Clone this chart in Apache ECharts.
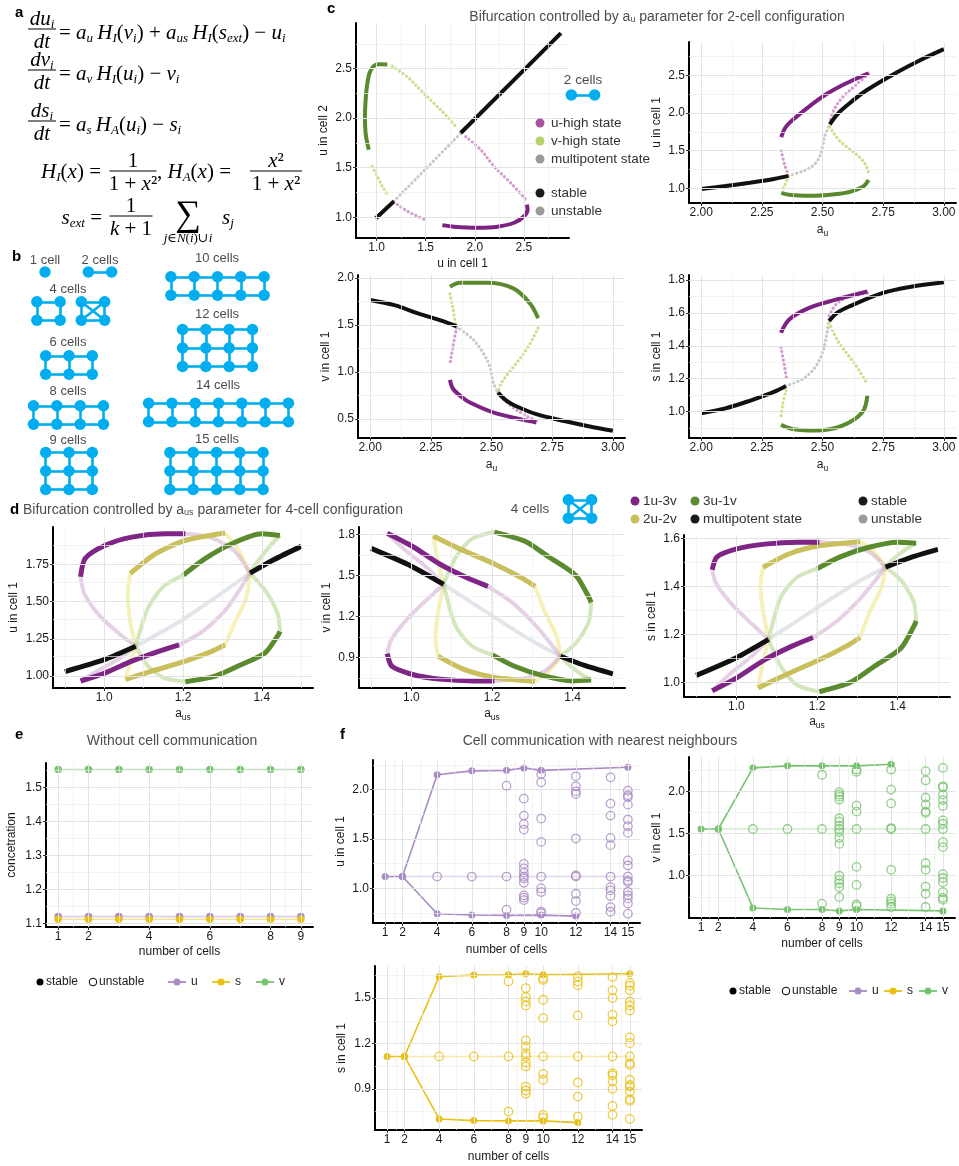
<!DOCTYPE html>
<html>
<head>
<meta charset="utf-8">
<title>Bifurcation figure</title>
<script src="https://cdn.jsdelivr.net/npm/echarts@6/dist/echarts.min.js"></script>
<style>
  html, body { margin: 0; padding: 0; background: #fff; }
  #main { width: 959px; height: 1166px; }
</style>
</head>
<body>
<div id="main"></div>
<script>
// ================= data =================

// --- c: 2-cell bifurcation, u cell 1 vs u cell 2
var c1_black1 = [[0.99,0.987],[1.177,1.161]];
var c1_grey   = [[1.177,1.161],[1.857,1.847]];
var c1_black2 = [[1.857,1.85],[2.878,2.857]];
var c1_dgreen = [[1.109,2.540],[1.024,2.543],[0.972,2.526],[0.932,2.466],[0.905,2.349],[0.888,2.182],[0.881,2.014],[0.888,1.847],[0.905,1.747],[0.921,1.680]];
var c1_lgreen1 = [[1.160,2.523],[1.313,2.416],[1.449,2.282],[1.585,2.149],[1.721,2.014],[1.806,1.914]];
var c1_lgreen2 = [[0.956,1.512],[1.007,1.412],[1.058,1.311],[1.126,1.211]];
var c1_pink1 = [[1.908,1.813],[2.061,1.68],[2.197,1.512],[2.367,1.345],[2.52,1.178]];
var c1_pink2 = [[1.211,1.128],[1.313,1.06],[1.415,1.01],[1.51,0.967]];
var c1_purple = [[1.670,0.920],[1.789,0.904],[2.028,0.894],[2.232,0.904],[2.401,0.944],[2.503,1.01],[2.538,1.077],[2.531,1.127]];

// --- c: u in cell 1 vs a_u
var c2_black1 = [[2.0,0.99],[2.1,1.03],[2.2,1.075],[2.3,1.125],[2.36,1.165]];
var c2_grey   = [[2.36,1.165],[2.42,1.23],[2.46,1.3],[2.485,1.4],[2.5,1.55],[2.51,1.7],[2.53,1.85]];
var c2_black2 = [[2.53,1.85],[2.56,1.98],[2.6,2.1],[2.68,2.3],[2.8,2.53],[2.9,2.7],[3.0,2.85]];
var c2_purple = [[2.33,1.68],[2.35,1.82],[2.4,1.97],[2.45,2.1],[2.52,2.26],[2.6,2.4],[2.69,2.53]];
var c2_pink1  = [[2.69,2.52],[2.64,2.38],[2.58,2.2],[2.545,2.03],[2.53,1.87]];
var c2_pink2  = [[2.33,1.5],[2.345,1.3],[2.36,1.18]];
var c2_lgreen1 = [[2.53,1.82],[2.56,1.67],[2.6,1.55],[2.65,1.42],[2.68,1.3],[2.69,1.18]];
var c2_lgreen2 = [[2.36,1.16],[2.345,1.04],[2.33,0.96]];
var c2_dgreen = [[2.33,0.94],[2.37,0.91],[2.45,0.9],[2.55,0.92],[2.62,0.96],[2.67,1.03],[2.69,1.11]];

// --- c: v in cell 1 vs a_u
var c3_black1 = [[2.0,1.765],[2.1,1.71],[2.2,1.62],[2.3,1.54],[2.356,1.484]];
var c3_grey   = [[2.356,1.48],[2.425,1.344],[2.466,1.2],[2.493,1.06],[2.507,0.89],[2.527,0.782]];
var c3_black2 = [[2.527,0.782],[2.56,0.7],[2.6,0.64],[2.685,0.553],[2.8,0.48],[2.9,0.425],[3.0,0.377]];
var c3_dgreen = [[2.329,1.905],[2.37,1.947],[2.48,1.947],[2.59,1.888],[2.658,1.73],[2.692,1.572]];
var c3_lgreen1 = [[2.692,1.467],[2.644,1.238],[2.582,1.027],[2.541,0.887],[2.527,0.79]];
var c3_lgreen2 = [[2.329,1.83],[2.342,1.66],[2.353,1.484]];
var c3_pink1  = [[2.356,1.47],[2.342,1.28],[2.329,1.09]];
var c3_pink2  = [[2.527,0.78],[2.545,0.72],[2.589,0.624],[2.64,0.54],[2.685,0.483]];
var c3_purple = [[2.329,0.918],[2.342,0.82],[2.38,0.73],[2.411,0.676],[2.507,0.571],[2.617,0.5],[2.685,0.465]];

// --- c: s in cell 1 vs a_u
var c4_black1 = [[2.0,0.99],[2.1,1.02],[2.2,1.066],[2.3,1.12],[2.349,1.156]];
var c4_grey   = [[2.349,1.156],[2.42,1.2],[2.47,1.27],[2.5,1.36],[2.515,1.45],[2.527,1.55]];
var c4_black2 = [[2.527,1.55],[2.56,1.6],[2.61,1.639],[2.746,1.72],[2.87,1.76],[3.0,1.786]];
var c4_purple = [[2.329,1.479],[2.363,1.56],[2.445,1.63],[2.555,1.68],[2.685,1.73]];
var c4_pink1  = [[2.685,1.72],[2.61,1.70],[2.555,1.65],[2.527,1.58]];
var c4_pink2  = [[2.329,1.39],[2.342,1.287],[2.352,1.197]];
var c4_lgreen1 = [[2.527,1.54],[2.568,1.418],[2.63,1.297],[2.685,1.167]];
var c4_lgreen2 = [[2.35,1.13],[2.335,1.036],[2.329,0.96]];
var c4_dgreen = [[2.329,0.92],[2.377,0.895],[2.473,0.885],[2.582,0.915],[2.664,0.996],[2.685,1.1]];

// --- d: 4-cell bifurcation vs a_us, u in cell 1  (p = 1u-3v, y = 2u-2v, g = 3u-1v, m = multipotent)
var dU_p_hi  = [[0.94,1.666],[0.952,1.79],[1.003,1.877],[1.07,1.932],[1.155,1.954],[1.206,1.954]];
var dU_p_lo  = [[0.94,0.967],[1.003,1.022],[1.07,1.10],[1.138,1.166],[1.19,1.21]];
var dU_p_un1 = [[0.94,1.666],[0.95,1.55],[0.99,1.4],[1.04,1.28],[1.08,1.2]];
var dU_p_un2 = [[1.206,1.954],[1.27,1.93],[1.33,1.84],[1.37,1.69]];
var dU_p_un3 = [[1.19,1.21],[1.25,1.3],[1.31,1.45],[1.37,1.69]];
var dU_p_un4 = [[0.94,0.967],[0.98,1.03],[1.04,1.12],[1.08,1.2]];
var dU_y_hi  = [[1.066,1.688],[1.13,1.82],[1.206,1.91],[1.307,1.96]];
var dU_y_lo  = [[1.054,0.978],[1.121,1.033],[1.206,1.10],[1.273,1.166],[1.307,1.21]];
var dU_y_un1 = [[1.066,1.688],[1.06,1.55],[1.065,1.38],[1.08,1.2]];
var dU_y_un2 = [[1.054,0.978],[1.065,1.08],[1.08,1.2]];
var dU_y_un3 = [[1.307,1.96],[1.34,1.85],[1.37,1.69]];
var dU_y_un4 = [[1.307,1.21],[1.33,1.35],[1.36,1.52],[1.37,1.69]];
var dU_g_hi  = [[1.201,1.677],[1.256,1.788],[1.324,1.888],[1.40,1.954],[1.446,1.943]];
var dU_g_lo  = [[1.206,0.962],[1.282,1.0],[1.34,1.067],[1.408,1.155],[1.442,1.277],[1.446,1.30]];
var dU_g_un1 = [[1.446,1.943],[1.42,1.87],[1.39,1.77],[1.37,1.69]];
var dU_g_un2 = [[1.446,1.30],[1.44,1.42],[1.41,1.57],[1.37,1.69]];
var dU_g_un3 = [[1.206,0.962],[1.15,0.99],[1.11,1.07],[1.08,1.2]];
var dU_g_un4 = [[1.201,1.677],[1.15,1.6],[1.11,1.45],[1.08,1.2]];
var dU_m_lo  = [[0.9,1.03],[1.0,1.11],[1.08,1.2]];
var dU_m_hi  = [[1.37,1.69],[1.43,1.78],[1.5,1.87]];
var dU_m_un  = [[1.08,1.2],[1.2,1.38],[1.3,1.56],[1.37,1.69]];
var dU_m_un2 = [[1.2,1.21],[1.2,1.67]];

// --- d: v in cell 1
var dV_p_hi  = [[0.94,0.927],[0.952,0.833],[1.003,0.774],[1.07,0.740],[1.155,0.727],[1.206,0.727]];
var dV_p_lo  = [[0.94,1.809],[1.003,1.712],[1.07,1.584],[1.138,1.483],[1.19,1.42]];
var dV_p_un1 = [[0.94,0.927],[0.95,1.029],[0.99,1.182],[1.04,1.327],[1.08,1.434]];
var dV_p_un2 = [[1.206,0.727],[1.27,0.741],[1.33,0.798],[1.37,0.908]];
var dV_p_un3 = [[1.19,1.42],[1.25,1.301],[1.31,1.128],[1.37,0.908]];
var dV_p_un4 = [[0.94,1.809],[0.98,1.698],[1.04,1.553],[1.08,1.434]];
var dV_y_hi  = [[1.066,0.909],[1.13,0.812],[1.206,0.753],[1.307,0.723]];
var dV_y_lo  = [[1.054,1.789],[1.121,1.693],[1.206,1.584],[1.273,1.483],[1.307,1.42]];
var dV_y_un1 = [[1.066,0.909],[1.06,1.029],[1.065,1.205],[1.08,1.434]];
var dV_y_un2 = [[1.054,1.789],[1.065,1.616],[1.08,1.434]];
var dV_y_un3 = [[1.307,0.723],[1.34,0.791],[1.37,0.908]];
var dV_y_un4 = [[1.307,1.42],[1.33,1.24],[1.36,1.057],[1.37,0.908]];
var dV_g_hi  = [[1.201,0.918],[1.256,0.834],[1.324,0.767],[1.40,0.727],[1.446,0.733]];
var dV_g_lo  = [[1.206,1.818],[1.282,1.75],[1.34,1.637],[1.408,1.50],[1.442,1.33],[1.446,1.301]];
var dV_g_un1 = [[1.446,0.733],[1.42,0.778],[1.39,0.847],[1.37,0.908]];
var dV_g_un2 = [[1.446,1.301],[1.44,1.16],[1.41,1.01],[1.37,0.908]];
var dV_g_un3 = [[1.206,1.818],[1.15,1.768],[1.11,1.632],[1.08,1.434]];
var dV_g_un4 = [[1.201,0.918],[1.15,0.983],[1.11,1.128],[1.08,1.434]];
var dV_m_lo  = [[0.9,1.698],[1.0,1.568],[1.08,1.434]];
var dV_m_hi  = [[1.37,0.908],[1.43,0.84],[1.5,0.778]];
var dV_m_un  = [[1.08,1.434],[1.2,1.205],[1.3,1.02],[1.37,0.908]];
var dV_m_un2 = [[1.2,1.42],[1.2,0.92]];

// --- d: s in cell 1
var dS_p_hi  = [[0.94,1.47],[0.952,1.524],[1.003,1.558],[1.07,1.577],[1.155,1.585],[1.206,1.585]];
var dS_p_lo  = [[0.94,0.966],[1.003,1.022],[1.07,1.095],[1.138,1.152],[1.19,1.188]];
var dS_p_un1 = [[0.94,1.47],[0.95,1.412],[0.99,1.324],[1.04,1.242],[1.08,1.18]];
var dS_p_un2 = [[1.206,1.585],[1.27,1.577],[1.33,1.544],[1.37,1.481]];
var dS_p_un3 = [[1.19,1.188],[1.25,1.257],[1.31,1.355],[1.37,1.481]];
var dS_p_un4 = [[0.94,0.966],[0.98,1.03],[1.04,1.113],[1.08,1.18]];
var dS_y_hi  = [[1.066,1.48],[1.13,1.536],[1.206,1.570],[1.307,1.587]];
var dS_y_lo  = [[1.054,0.978],[1.121,1.032],[1.206,1.095],[1.273,1.152],[1.307,1.188]];
var dS_y_un1 = [[1.066,1.48],[1.06,1.412],[1.065,1.311],[1.08,1.18]];
var dS_y_un2 = [[1.054,0.978],[1.065,1.077],[1.08,1.18]];
var dS_y_un3 = [[1.307,1.587],[1.34,1.548],[1.37,1.481]];
var dS_y_un4 = [[1.307,1.188],[1.33,1.291],[1.36,1.396],[1.37,1.481]];
var dS_g_hi  = [[1.201,1.475],[1.256,1.523],[1.324,1.562],[1.40,1.585],[1.446,1.581]];
var dS_g_lo  = [[1.206,0.962],[1.282,1.0],[1.34,1.065],[1.408,1.143],[1.442,1.24],[1.446,1.257]];
var dS_g_un1 = [[1.446,1.581],[1.42,1.555],[1.39,1.516],[1.37,1.481]];
var dS_g_un2 = [[1.446,1.257],[1.44,1.337],[1.41,1.423],[1.37,1.481]];
var dS_g_un3 = [[1.206,0.962],[1.15,0.99],[1.11,1.068],[1.08,1.18]];
var dS_g_un4 = [[1.201,1.475],[1.15,1.438],[1.11,1.355],[1.08,1.18]];
var dS_m_lo  = [[0.9,1.03],[1.0,1.104],[1.08,1.18]];
var dS_m_hi  = [[1.37,1.481],[1.43,1.52],[1.5,1.555]];
var dS_m_un  = [[1.08,1.18],[1.2,1.311],[1.3,1.418],[1.37,1.481]];
var dS_m_un2 = [[1.2,1.188],[1.2,1.475]];

// --- e: without communication
var eCells = [1, 2, 3, 4, 5, 6, 7, 8, 9];
var eU = [1.121, 1.121, 1.121, 1.121, 1.121, 1.121, 1.121, 1.121, 1.121];
var eS = [1.113, 1.113, 1.113, 1.113, 1.113, 1.113, 1.113, 1.113, 1.113];
var eV = [1.553, 1.553, 1.553, 1.553, 1.553, 1.553, 1.553, 1.553, 1.553];

// --- f: nearest-neighbour communication, u
var fU_up    = [[2,1.12],[4,2.15],[6,2.19],[8,2.195],[9,2.22],[10,2.195],[15,2.226]];
var fU_low   = [[2,1.12],[4,0.744],[6,0.731],[8,0.727],[10,0.73],[12,0.72]];
var fU_mid   = [[1,1.12],[2,1.12]];
var fU_midUn = [[2,1.12],[15,1.12]];
var fU_un = [[4,1.12],[6,1.12],[8,2.04],[8,1.12],[8,0.785],
  [9,1.909],[9,1.737],[9,1.653],[9,1.596],[9,1.249],[9,1.202],[9,1.158],[9,1.12],[9,1.101],[9,1.057],[9,0.929],[9,0.906],[9,0.882],
  [10,2.158],[10,2.074],[10,1.707],[10,1.471],[10,1.12],[10,1.0],[10,0.963],[10,0.764],[10,0.75],
  [12,2.135],[12,2.034],[12,1.983],[12,1.956],[12,1.505],[12,1.131],[12,1.12],[12,0.946],[12,0.872],[12,0.754],
  [14,2.125],[14,1.859],[14,1.737],[14,1.512],[14,1.438],[14,1.12],[14,1.013],[14,0.98],[14,0.923],[14,0.811],[14,0.764],
  [15,1.99],[15,1.943],[15,1.925],[15,1.848],[15,1.697],[15,1.63],[15,1.562],[15,1.283],[15,1.232],[15,1.12],[15,1.081],[15,1.065],[15,0.966],[15,0.93],[15,0.899],[15,0.848],[15,0.744]];

// --- f: v
var fV_up    = [[2,1.553],[4,2.276],[6,2.30],[8,2.30],[10,2.30],[12,2.32]];
var fV_low   = [[2,1.553],[4,0.619],[6,0.60],[8,0.60],[9,0.584],[10,0.60],[15,0.584]];
var fV_mid   = [[1,1.553],[2,1.553]];
var fV_midUn = [[2,1.553],[15,1.553]];
var fV_un = [[4,1.553],[6,1.553],[8,2.195],[8,1.553],[8,0.669],
  [9,1.99],[9,1.96],[9,1.935],[9,1.90],[9,1.68],[9,1.64],[9,1.59],[9,1.553],[9,1.517],[9,1.447],[9,1.377],[9,1.0],[9,0.95],[9,0.91],[9,0.864],[9,0.747],
  [10,2.257],[10,2.23],[10,1.83],[10,1.759],[10,1.553],[10,1.105],[10,0.891],[10,0.661],[10,0.64],
  [12,2.257],[12,2.019],[12,1.856],[12,1.564],[12,1.553],[12,1.07],[12,0.728],[12,0.697],[12,0.67],[12,0.63],
  [14,2.237],[14,2.128],[14,1.926],[14,1.844],[14,1.759],[14,1.745],[14,1.553],[14,1.148],[14,1.07],[14,0.872],[14,0.786],[14,0.63],
  [15,2.276],[15,2.058],[15,2.045],[15,1.96],[15,1.895],[15,1.825],[15,1.654],[15,1.615],[15,1.553],[15,1.397],[15,1.339],[15,1.019],[15,0.973],[15,0.922],[15,0.805],[15,0.739],[15,0.716]];

// --- f: s
var fS_up    = [[2,1.114],[4,1.643],[6,1.652],[8,1.654],[9,1.661],[10,1.654],[15,1.661]];
var fS_low   = [[2,1.114],[4,0.701],[6,0.69],[8,0.688],[10,0.688],[12,0.677]];
var fS_mid   = [[1,1.114],[2,1.114]];
var fS_midUn = [[2,1.114],[15,1.114]];
var fS_un = [[4,1.114],[6,1.114],[8,1.61],[8,1.114],[8,0.75],
  [9,1.566],[9,1.507],[9,1.478],[9,1.451],[9,1.22],[9,1.18],[9,1.136],[9,1.114],[9,1.074],[9,1.048],[9,0.915],[9,0.889],[9,0.867],
  [10,1.632],[10,1.62],[10,1.489],[10,1.368],[10,1.114],[10,0.999],[10,0.96],[10,0.728],[10,0.71],
  [12,1.643],[12,1.61],[12,1.584],[12,1.385],[12,1.114],[12,0.942],[12,0.849],[12,0.717],
  [14,1.639],[14,1.551],[14,1.50],[14,1.39],[14,1.346],[14,1.114],[14,1.004],[14,0.99],[14,0.949],[14,0.90],[14,0.787],[14,0.728],
  [15,1.60],[15,1.582],[15,1.551],[15,1.478],[15,1.451],[15,1.418],[15,1.24],[15,1.202],[15,1.114],[15,1.07],[15,1.058],[15,0.96],[15,0.926],[15,0.915],[15,0.882],[15,0.831],[15,0.82],[15,0.701]];

// --- tick labels / grid breaks
var c1Ticks = [1.0, 1.5, 2.0, 2.5],        c1Minor = [1.25, 1.75, 2.25, 2.75];
var auTicks = [2.0, 2.25, 2.5, 2.75, 3.0],  auMinor = [2.125, 2.375, 2.625, 2.875];
var c2YTicks = [1.0, 1.5, 2.0, 2.5],        c2YMinor = [1.25, 1.75, 2.25, 2.75];
var c3YTicks = [0.5, 1.0, 1.5, 2.0],        c3YMinor = [0.75, 1.25, 1.75];
var c4YTicks = [1.0, 1.2, 1.4, 1.6, 1.8],   c4YMinor = [0.9, 1.1, 1.3, 1.5, 1.7];
var dXTicks = [1.0, 1.2, 1.4],              dXMinor = [0.9, 1.1, 1.3, 1.5];
var dUTicks = [1.0, 1.25, 1.5, 1.75],       dUMinor = [1.125, 1.375, 1.625, 1.875];
var dVTicks = [0.9, 1.2, 1.5, 1.8],         dVMinor = [0.75, 1.05, 1.35, 1.65];
var dSTicks = [1.0, 1.2, 1.4, 1.6],         dSMinor = [1.1, 1.3, 1.5];
var eXTicks = [1, 2, 4, 6, 8, 9],           eXMinor = [1.5, 3, 5, 7, 8.5];
var eYTicks = [1.1, 1.2, 1.3, 1.4, 1.5],    eYMinor = [1.15, 1.25, 1.35, 1.45, 1.55];
var fXTicks = [1, 2, 4, 6, 8, 9, 10, 12, 14, 15], fXMinor = [1.5, 3, 5, 7, 8.5, 9.5, 11, 13, 14.5];
var fUTicks = [1.0, 1.5, 2.0],              fUMinor = [0.75, 1.25, 1.75, 2.25];
var fVTicks = [1.0, 1.5, 2.0],              fVMinor = [0.75, 1.25, 1.75, 2.25];
var fSTicks = [0.9, 1.2, 1.5],              fSMinor = [0.75, 1.05, 1.35, 1.65];

// --- cell network topologies (panel b + legend icons)
var netLabel = ['1 cell', '2 cells', '4 cells', '', '6 cells', '8 cells', '9 cells', '10 cells', '12 cells', '14 cells', '15 cells', '', ''];
var netRows  = [1, 1, 2, 2, 2, 2, 3, 2, 3, 2, 3, 1, 2];
var netCols  = [1, 2, 2, 2, 3, 4, 3, 5, 4, 7, 5, 2, 2];
var netAll   = [0, 0, 0, 1, 0, 0, 0, 0, 0, 0, 0, 0, 1];

// ================= layout =================
var SANS = '"Liberation Sans", Arial, Helvetica, sans-serif';
var SERIF = '"Liberation Serif", "DejaVu Serif", serif';
var BLUE = '#00aeef';
var COL_U = '#a98bc6', COL_S = '#e9c113', COL_V = '#78c36f';

var NET_POS = [[45,272],[100,272],[48.5,311],[93,311],[69,365],[68.5,415],[69,471],[217.5,286],[217.5,348],[218.5,412.5],[216.5,471],[583,95],[580,509]];
var NET_CAP = [[45,260],[100,260],[68,289],null,[68,342],[68,391],[68,440],[217,258],[217,314],[218,385],[217,439],null,null];
var NET_DX = 23.3, NET_DY = 18.5;

var PLOTS = [
  {box:[356,23,213,215],  xr:[0.79,2.96],  yr:[0.79,2.96],  xt:c1Ticks, xm:c1Minor, yt:c1Ticks, ym:c1Minor, xd:1, yd:1, xname:'u in cell 1', yname:'u in cell 2', xgap:18, ygap:23},
  {box:[689,42,267,161],  xr:[1.95,3.05],  yr:[0.805,2.945], xt:auTicks, xm:auMinor, yt:c2YTicks, ym:c2YMinor, xd:2, yd:1, xname:'a{sub|u}', yname:'u in cell 1', xgap:19, ygap:17},
  {box:[358,275,267,163], xr:[1.95,3.05],  yr:[0.30,2.03],  xt:auTicks, xm:auMinor, yt:c3YTicks, ym:c3YMinor, xd:2, yd:1, xname:'a{sub|u}', yname:'v in cell 1', xgap:19, ygap:23},
  {box:[689,275,267,163], xr:[1.95,3.05],  yr:[0.84,1.83],  xt:auTicks, xm:auMinor, yt:c4YTicks, ym:c4YMinor, xd:2, yd:1, xname:'a{sub|u}', yname:'s in cell 1', xgap:19, ygap:24},
  {box:[53,527,260,161],  xr:[0.87,1.53],  yr:[0.92,2.0],   xt:dXTicks, xm:dXMinor, yt:dUTicks, ym:dUMinor, xd:1, yd:2, xname:'a{sub|us}', yname:'u in cell 1', xgap:18, ygap:31},
  {box:[359,527,266,161], xr:[0.87,1.53],  yr:[0.675,1.855], xt:dXTicks, xm:dXMinor, yt:dVTicks, ym:dVMinor, xd:1, yd:1, xname:'a{sub|us}', yname:'v in cell 1', xgap:18, ygap:22},
  {box:[684,535,266,162], xr:[0.87,1.53],  yr:[0.94,1.615], xt:dXTicks, xm:dXMinor, yt:dSTicks, ym:dSMinor, xd:1, yd:1, xname:'a{sub|us}', yname:'s in cell 1', xgap:14, ygap:22},
  {box:[46,763,267,164],  xr:[0.6,9.4],    yr:[1.09,1.572], xt:eXTicks, xm:eXMinor, yt:eYTicks, ym:eYMinor, xd:0, yd:1, xname:'number of cells', yname:'concetration', xgap:17, ygap:26},
  {box:[373,760,267,163], xr:[0.3,15.7],   yr:[0.65,2.30],  xt:fXTicks, xm:fXMinor, yt:fUTicks, ym:fUMinor, xd:0, yd:1, xname:'number of cells', yname:'u in cell 1', xgap:19, ygap:23},
  {box:[689,757,266,161], xr:[0.3,15.7],   yr:[0.5,2.405],  xt:fXTicks, xm:fXMinor, yt:fVTicks, ym:fVMinor, xd:0, yd:1, xname:'number of cells', yname:'v in cell 1', xgap:18, ygap:21},
  {box:[375,966,267,164], xr:[0.3,15.7],   yr:[0.628,1.712], xt:fXTicks, xm:fXMinor, yt:fSTicks, ym:fSMinor, xd:0, yd:1, xname:'number of cells', yname:'s in cell 1', xgap:19, ygap:25}
];

// ================= build =================
var grids = [], xAxes = [], yAxes = [], series = [], graphics = [];

var NAME_RICH = { sub: { fontSize: 8.5, lineHeight: 8, verticalAlign: 'bottom', fontFamily: SANS, color: '#1a1a1a' } };

function makeAxis(gi, r, ticks, dec, name, gap) {
  return {
    type: 'value', gridIndex: gi, min: r[0], max: r[1], z: 3,
    name: name, nameLocation: 'middle', nameGap: gap,
    nameTextStyle: { fontFamily: SANS, fontSize: 12, color: '#1a1a1a', lineHeight: 16, rich: NAME_RICH },
    axisLine: { show: true, onZero: false, lineStyle: { color: '#000', width: 2 } },
    axisTick: { show: true, customValues: ticks, length: 3, lineStyle: { color: '#333', width: 1 } },
    axisLabel: { customValues: ticks, margin: 4, color: '#1a1a1a', fontSize: 12, fontFamily: SANS,
      formatter: function (v) { return Number(v).toFixed(dec); } },
    splitLine: { show: false }
  };
}

PLOTS.forEach(function (p, gi) {
  grids.push({ left: p.box[0], top: p.box[1], width: p.box[2], height: p.box[3] });
  xAxes.push(makeAxis(gi, p.xr, p.xt, p.xd, p.xname, p.xgap));
  yAxes.push(makeAxis(gi, p.yr, p.yt, p.yd, p.yname, p.ygap));
  var ml = [];
  var major = { color: '#e3e3e3', width: 1, type: 'solid' }, minor = { color: '#eeeeee', width: 0.7, type: 'solid' };
  p.xt.forEach(function (v) { ml.push({ xAxis: v, lineStyle: major }); });
  p.xm.forEach(function (v) { ml.push({ xAxis: v, lineStyle: minor }); });
  p.yt.forEach(function (v) { ml.push({ yAxis: v, lineStyle: major }); });
  p.ym.forEach(function (v) { ml.push({ yAxis: v, lineStyle: minor }); });
  series.push({
    type: 'line', xAxisIndex: gi, yAxisIndex: gi, data: [[p.xr[0], p.yr[0]]],
    symbol: 'none', lineStyle: { opacity: 0 }, silent: true, z: 1,
    markLine: { silent: true, symbol: ['none', 'none'], label: { show: false }, lineStyle: { type: 'solid' }, data: ml }
  });
});

// overlay grid for the network glyphs (pixel units)
var NG = grids.length;
grids.push({ left: 0, top: 0, width: 959, height: 1166 });
xAxes.push({ type: 'value', gridIndex: NG, min: 0, max: 959, show: false });
yAxes.push({ type: 'value', gridIndex: NG, min: 0, max: 1166, inverse: true, show: false });

// ---- bifurcation curves
var DOTS = [0.1, 4.2];
var C_STYLE = {
  black:  { color: '#111111', width: 4 },
  purple: { color: '#7d2283', width: 4 },
  dgreen: { color: '#5b8a2e', width: 4 },
  grey:   { color: '#c8c8c8', width: 3.2, type: DOTS, cap: 'round' },
  pink:   { color: '#d49bcd', width: 3.2, type: DOTS, cap: 'round' },
  lgreen: { color: '#cddf88', width: 3.2, type: DOTS, cap: 'round' }
};
var D_STYLE = {
  purple:  { color: '#7f2586', width: 5 },
  purpleU: { color: '#c48fc1', width: 4, opacity: 0.42 },
  yellow:  { color: '#c9bf5d', width: 5 },
  yellowU: { color: '#eeea8a', width: 4, opacity: 0.6 },
  green:   { color: '#5c8a2f', width: 5 },
  greenU:  { color: '#a6cb74', width: 4, opacity: 0.48 },
  black:   { color: '#111111', width: 5 },
  greyU:   { color: '#cfd6dc', width: 4, opacity: 0.6 },
  greyDot: { color: '#dde5dd', width: 2.5, type: [0.1, 4], cap: 'round', opacity: 0.8 }
};

function curve(gi, pts, st, z, sm) {
  series.push({ type: 'line', xAxisIndex: gi, yAxisIndex: gi, data: pts, symbol: 'none', smooth: sm,
    silent: true, z: z || 3, lineStyle: st });
}

[
  [0, [[c1_grey,'grey'],[c1_lgreen1,'lgreen'],[c1_lgreen2,'lgreen'],[c1_pink1,'pink'],[c1_pink2,'pink'],[c1_black1,'black'],[c1_black2,'black'],[c1_dgreen,'dgreen'],[c1_purple,'purple']]],
  [1, [[c2_grey,'grey'],[c2_lgreen1,'lgreen'],[c2_lgreen2,'lgreen'],[c2_pink1,'pink'],[c2_pink2,'pink'],[c2_black1,'black'],[c2_black2,'black'],[c2_dgreen,'dgreen'],[c2_purple,'purple']]],
  [2, [[c3_grey,'grey'],[c3_lgreen1,'lgreen'],[c3_lgreen2,'lgreen'],[c3_pink1,'pink'],[c3_pink2,'pink'],[c3_black1,'black'],[c3_black2,'black'],[c3_dgreen,'dgreen'],[c3_purple,'purple']]],
  [3, [[c4_grey,'grey'],[c4_lgreen1,'lgreen'],[c4_lgreen2,'lgreen'],[c4_pink1,'pink'],[c4_pink2,'pink'],[c4_black1,'black'],[c4_black2,'black'],[c4_dgreen,'dgreen'],[c4_purple,'purple']]]
].forEach(function (g) {
  g[1].forEach(function (b) { curve(g[0], b[0], C_STYLE[b[1]], b[1] === 'black' || b[1] === 'purple' || b[1] === 'dgreen' ? 4 : 3, 0.35); });
});

[
  [4, [[dU_m_un2,'greyDot'],[dU_m_un,'greyU'],
       [dU_y_un1,'yellowU'],[dU_y_un2,'yellowU'],[dU_y_un3,'yellowU'],[dU_y_un4,'yellowU'],
       [dU_g_un1,'greenU'],[dU_g_un2,'greenU'],[dU_g_un3,'greenU'],[dU_g_un4,'greenU'],
       [dU_p_un1,'purpleU'],[dU_p_un2,'purpleU'],[dU_p_un3,'purpleU'],[dU_p_un4,'purpleU'],
       [dU_y_hi,'yellow'],[dU_y_lo,'yellow'],[dU_p_hi,'purple'],[dU_p_lo,'purple'],[dU_g_hi,'green'],[dU_g_lo,'green'],[dU_m_lo,'black'],[dU_m_hi,'black']]],
  [5, [[dV_m_un2,'greyDot'],[dV_m_un,'greyU'],
       [dV_y_un1,'yellowU'],[dV_y_un2,'yellowU'],[dV_y_un3,'yellowU'],[dV_y_un4,'yellowU'],
       [dV_g_un1,'greenU'],[dV_g_un2,'greenU'],[dV_g_un3,'greenU'],[dV_g_un4,'greenU'],
       [dV_p_un1,'purpleU'],[dV_p_un2,'purpleU'],[dV_p_un3,'purpleU'],[dV_p_un4,'purpleU'],
       [dV_y_hi,'yellow'],[dV_y_lo,'yellow'],[dV_p_hi,'purple'],[dV_p_lo,'purple'],[dV_g_hi,'green'],[dV_g_lo,'green'],[dV_m_lo,'black'],[dV_m_hi,'black']]],
  [6, [[dS_m_un2,'greyDot'],[dS_m_un,'greyU'],
       [dS_y_un1,'yellowU'],[dS_y_un2,'yellowU'],[dS_y_un3,'yellowU'],[dS_y_un4,'yellowU'],
       [dS_g_un1,'greenU'],[dS_g_un2,'greenU'],[dS_g_un3,'greenU'],[dS_g_un4,'greenU'],
       [dS_p_un1,'purpleU'],[dS_p_un2,'purpleU'],[dS_p_un3,'purpleU'],[dS_p_un4,'purpleU'],
       [dS_y_hi,'yellow'],[dS_y_lo,'yellow'],[dS_p_hi,'purple'],[dS_p_lo,'purple'],[dS_g_hi,'green'],[dS_g_lo,'green'],[dS_m_lo,'black'],[dS_m_hi,'black']]]
].forEach(function (g) {
  g[1].forEach(function (b) { curve(g[0], b[0], D_STYLE[b[1]], /U$|Dot$/.test(b[1]) ? 2 : 4, 0.25); });
});

// ---- e: steady states without communication
function zip(xs, ys) { return xs.map(function (x, i) { return [x, ys[i]]; }); }
[[eU, COL_U], [eS, COL_S], [eV, COL_V]].forEach(function (d) {
  series.push({ type: 'line', xAxisIndex: 7, yAxisIndex: 7, data: zip(eCells, d[0]), symbol: 'circle', symbolSize: 7.5,
    showSymbol: true, silent: true, z: 4, itemStyle: { color: d[1] }, lineStyle: { color: d[1], width: 1.5, opacity: 0.45 } });
});

// ---- f: steady states with communication
function fPanel(gi, col, up, low, mid, midUn, un) {
  series.push({ type: 'line', xAxisIndex: gi, yAxisIndex: gi, data: midUn, symbol: 'none', silent: true, z: 3,
    lineStyle: { color: col, width: 1.5, opacity: 0.35 } });
  [up, low, mid].forEach(function (d) {
    series.push({ type: 'line', xAxisIndex: gi, yAxisIndex: gi, data: d, symbol: 'circle', symbolSize: 7,
      showSymbol: true, silent: true, z: 4, itemStyle: { color: col }, lineStyle: { color: col, width: 1.6 } });
  });
  series.push({ type: 'scatter', xAxisIndex: gi, yAxisIndex: gi, data: un, symbol: 'circle', symbolSize: 8.5,
    silent: true, z: 5, itemStyle: { color: 'rgba(255,255,255,0)', borderColor: col, borderWidth: 1.3 } });
}
fPanel(8, COL_U, fU_up, fU_low, fU_mid, fU_midUn, fU_un);
fPanel(9, COL_V, fV_up, fV_low, fV_mid, fV_midUn, fV_un);
fPanel(10, COL_S, fS_up, fS_low, fS_mid, fS_midUn, fS_un);

// ---- network glyphs
var netNodes = [], netLinks = [];
netRows.forEach(function (rows, k) {
  var cols = netCols[k], c = NET_POS[k], base = netNodes.length;
  function id(r, q) { return 'n' + (base + r * cols + q); }
  for (var r = 0; r < rows; r++) {
    for (var q = 0; q < cols; q++) {
      netNodes.push({ name: id(r, q), value: [c[0] + (q - (cols - 1) / 2) * NET_DX, c[1] + (r - (rows - 1) / 2) * NET_DY] });
    }
  }
  for (r = 0; r < rows; r++) {
    for (q = 0; q < cols; q++) {
      if (q + 1 < cols) netLinks.push({ source: id(r, q), target: id(r, q + 1) });
      if (r + 1 < rows) netLinks.push({ source: id(r, q), target: id(r + 1, q) });
      if (netAll[k] && r + 1 < rows && q + 1 < cols) {
        netLinks.push({ source: id(r, q), target: id(r + 1, q + 1) });
        netLinks.push({ source: id(r, q + 1), target: id(r + 1, q) });
      }
    }
  }
});
series.push({ type: 'graph', coordinateSystem: 'cartesian2d', xAxisIndex: NG, yAxisIndex: NG, data: netNodes, links: netLinks,
  symbol: 'circle', symbolSize: 11.5, silent: true, z: 6, label: { show: false },
  itemStyle: { color: BLUE }, lineStyle: { color: BLUE, width: 2.6, opacity: 1, curveness: 0 } });

// ---- graphic text helpers
function T(x, y, text, o) {
  o = o || {};
  return { type: 'text', x: x, y: y, silent: true, z: 10, style: {
    text: text, fontFamily: o.ff || SANS, fontSize: o.fs || 12, fontWeight: o.fw || 'normal', fontStyle: o.fst || 'normal',
    fill: o.fill || '#1a1a1a', align: o.align || 'left', textAlign: o.align || 'left',
    verticalAlign: 'middle', textVerticalAlign: 'middle', rich: o.rich } };
}
function Circ(x, y, r, fill, stroke, lw) {
  return { type: 'circle', silent: true, z: 10, shape: { cx: x, cy: y, r: r }, style: { fill: fill, stroke: stroke || null, lineWidth: lw || 0 } };
}
function Ln(x1, y1, x2, y2, stroke, lw) {
  return { type: 'line', silent: true, z: 10, shape: { x1: x1, y1: y1, x2: x2, y2: y2 }, style: { stroke: stroke, lineWidth: lw } };
}

// panel letters
[['a',15,13],['b',12,257],['c',327,9],['d',10,510],['e',15,735],['f',340,735]].forEach(function (l) {
  graphics.push(T(l[1], l[2], l[0], { fs: 15, fw: 'bold', fill: '#000' }));
});

// equations (panel a)
var EQ = 21;
var TH = '\u2009';
var EQ_RICH = {
  i: { fontFamily: SERIF, fontStyle: 'italic', fontSize: EQ, lineHeight: 24 },
  r: { fontFamily: SERIF, fontSize: EQ, lineHeight: 24 },
  s: { fontFamily: SERIF, fontStyle: 'italic', fontSize: 13, lineHeight: 12, verticalAlign: 'bottom' },
  big: { fontFamily: SERIF, fontSize: 36, lineHeight: 36 },
  t: { fontFamily: SERIF, fontStyle: 'italic', fontSize: 13, lineHeight: 15 },
  tr: { fontFamily: SERIF, fontSize: 13, lineHeight: 15 }
};
function EqT(x, y, txt, align) { return T(x, y, txt, { rich: EQ_RICH, align: align || 'left', fill: '#000', ff: SERIF, fs: EQ }); }
function frac(cx, yBar, w, num, den) {
  graphics.push(EqT(cx, yBar - 10, num, 'center'));
  graphics.push(Ln(cx - w / 2, yBar, cx + w / 2, yBar, '#000', 1));
  graphics.push(EqT(cx, yBar + 13, den, 'center'));
}
frac(42, 29, 28, '{i|du}{s|i}', '{i|dt}');
graphics.push(EqT(59, 33, '{r|= }{i|a}{s|u}{r|' + TH + '}{i|H}{s|I}{r|(}{i|v}{s|i}{r|) + }{i|a}{s|us}{r|' + TH + '}{i|H}{s|I}{r|(}{i|s}{s|ext}{r|) − }{i|u}{s|i}'));
frac(42, 70, 28, '{i|dv}{s|i}', '{i|dt}');
graphics.push(EqT(59, 74, '{r|= }{i|a}{s|v}{r|' + TH + '}{i|H}{s|I}{r|(}{i|u}{s|i}{r|) − }{i|v}{s|i}'));
frac(42, 121, 28, '{i|ds}{s|i}', '{i|dt}');
graphics.push(EqT(59, 125, '{r|= }{i|a}{s|s}{r|' + TH + '}{i|H}{s|A}{r|(}{i|u}{s|i}{r|) − }{i|s}{s|i}'));
graphics.push(EqT(101, 172, '{i|H}{s|I}{r|(}{i|x}{r|) =}', 'right'));
frac(133, 171, 47, '{r|1}', '{r|1 + }{i|x}{r|²}');
graphics.push(EqT(157, 172, '{r|, }{i|H}{s|A}{r|(}{i|x}{r|) =}'));
frac(276, 171, 52, '{i|x}{r|²}', '{r|1 + }{i|x}{r|²}');
graphics.push(EqT(102, 218, '{i|s}{s|ext}{r| =}', 'right'));
frac(131, 216, 43, '{r|1}', '{i|k}{r| + 1}');
graphics.push(EqT(188, 216, '{big|∑}', 'center'));
graphics.push(EqT(188, 239, '{t|j}{tr|∈}{t|N}{tr|(}{t|i}{tr|)∪}{t|i}', 'center'));
graphics.push(EqT(222, 218, '{i|s}{s|j}'));

// network captions
netLabel.forEach(function (lab, k) {
  if (lab && NET_CAP[k]) graphics.push(T(NET_CAP[k][0], NET_CAP[k][1], lab, { fs: 13, fill: '#4d4d4d', align: 'center' }));
});

// titles
var TITLE_RICH = { sub: { fontSize: 9, lineHeight: 9, verticalAlign: 'bottom', fontFamily: SANS, fill: '#4d4d4d' } };
graphics.push(T(657, 17, 'Bifurcation controlled by a{sub|u} parameter for 2-cell configuration', { fs: 14, fill: '#4d4d4d', align: 'center', rich: TITLE_RICH }));
graphics.push(T(23, 510, 'Bifurcation controlled by a{sub|us} parameter for 4-cell configuration', { fs: 14, fill: '#4d4d4d', rich: TITLE_RICH }));
graphics.push(T(172, 741, 'Without cell communication', { fs: 14, fill: '#4d4d4d', align: 'center' }));
graphics.push(T(600, 741, 'Cell communication with nearest neighbours', { fs: 14, fill: '#4d4d4d', align: 'center' }));

// legend c
graphics.push(T(583, 80, '2 cells', { fs: 13.5, fill: '#4d4d4d', align: 'center' }));
[['u-high state', 123, '#a7549f'], ['v-high state', 141, '#b4d16a'], ['multipotent state', 159, '#9a9a9a'],
 ['stable', 193, '#1a1a1a'], ['unstable', 211, '#9a9a9a']].forEach(function (l) {
  graphics.push(Circ(540, l[1], 4.5, l[2]));
  graphics.push(T(551, l[1], l[0], { fs: 13.5, fill: '#333' }));
});

// legend d
graphics.push(T(530, 509, '4 cells', { fs: 13.5, fill: '#4d4d4d', align: 'center' }));
[['1u-3v', 635, 501, '#7f2586'], ['3u-1v', 695, 501, '#5c8a2f'], ['2u-2v', 635, 519, '#c9bf5d'],
 ['multipotent state', 695, 519, '#1a1a1a'], ['stable', 863, 501, '#1a1a1a'], ['unstable', 863, 519, '#9a9a9a']].forEach(function (l) {
  graphics.push(Circ(l[1], l[2], 4.5, l[3]));
  graphics.push(T(l[1] + 8, l[2], l[0], { fs: 13.5, fill: '#333' }));
});

// legend e/f
function stateLegend(x, y, u0, step) {
  graphics.push(Circ(x, y, 3.5, '#000'));
  graphics.push(T(x + 6, y, 'stable', { fs: 12 }));
  graphics.push(Circ(x + 53, y, 3.8, '#fff', '#000', 1));
  graphics.push(T(x + 59, y, 'unstable', { fs: 12 }));
  [['u', COL_U], ['s', COL_S], ['v', COL_V]].forEach(function (l, k) {
    var lx = x + u0 + k * step;
    graphics.push(Ln(lx, y, lx + 18, y, l[1], 1.8));
    graphics.push(Circ(lx + 9, y, 3.5, l[1]));
    graphics.push(T(lx + 23, y, l[0], { fs: 12 }));
  });
}
stateLegend(40, 982, 128, 44);
stateLegend(733, 991, 116, 35);

var option = {
  animation: false,
  backgroundColor: '#ffffff',
  grid: grids,
  xAxis: xAxes,
  yAxis: yAxes,
  series: series,
  graphic: { elements: graphics }
};

var chart = echarts.init(document.getElementById('main'));
chart.setOption(option);
window.addEventListener('resize', chart.resize);
</script>
</body>
</html>
